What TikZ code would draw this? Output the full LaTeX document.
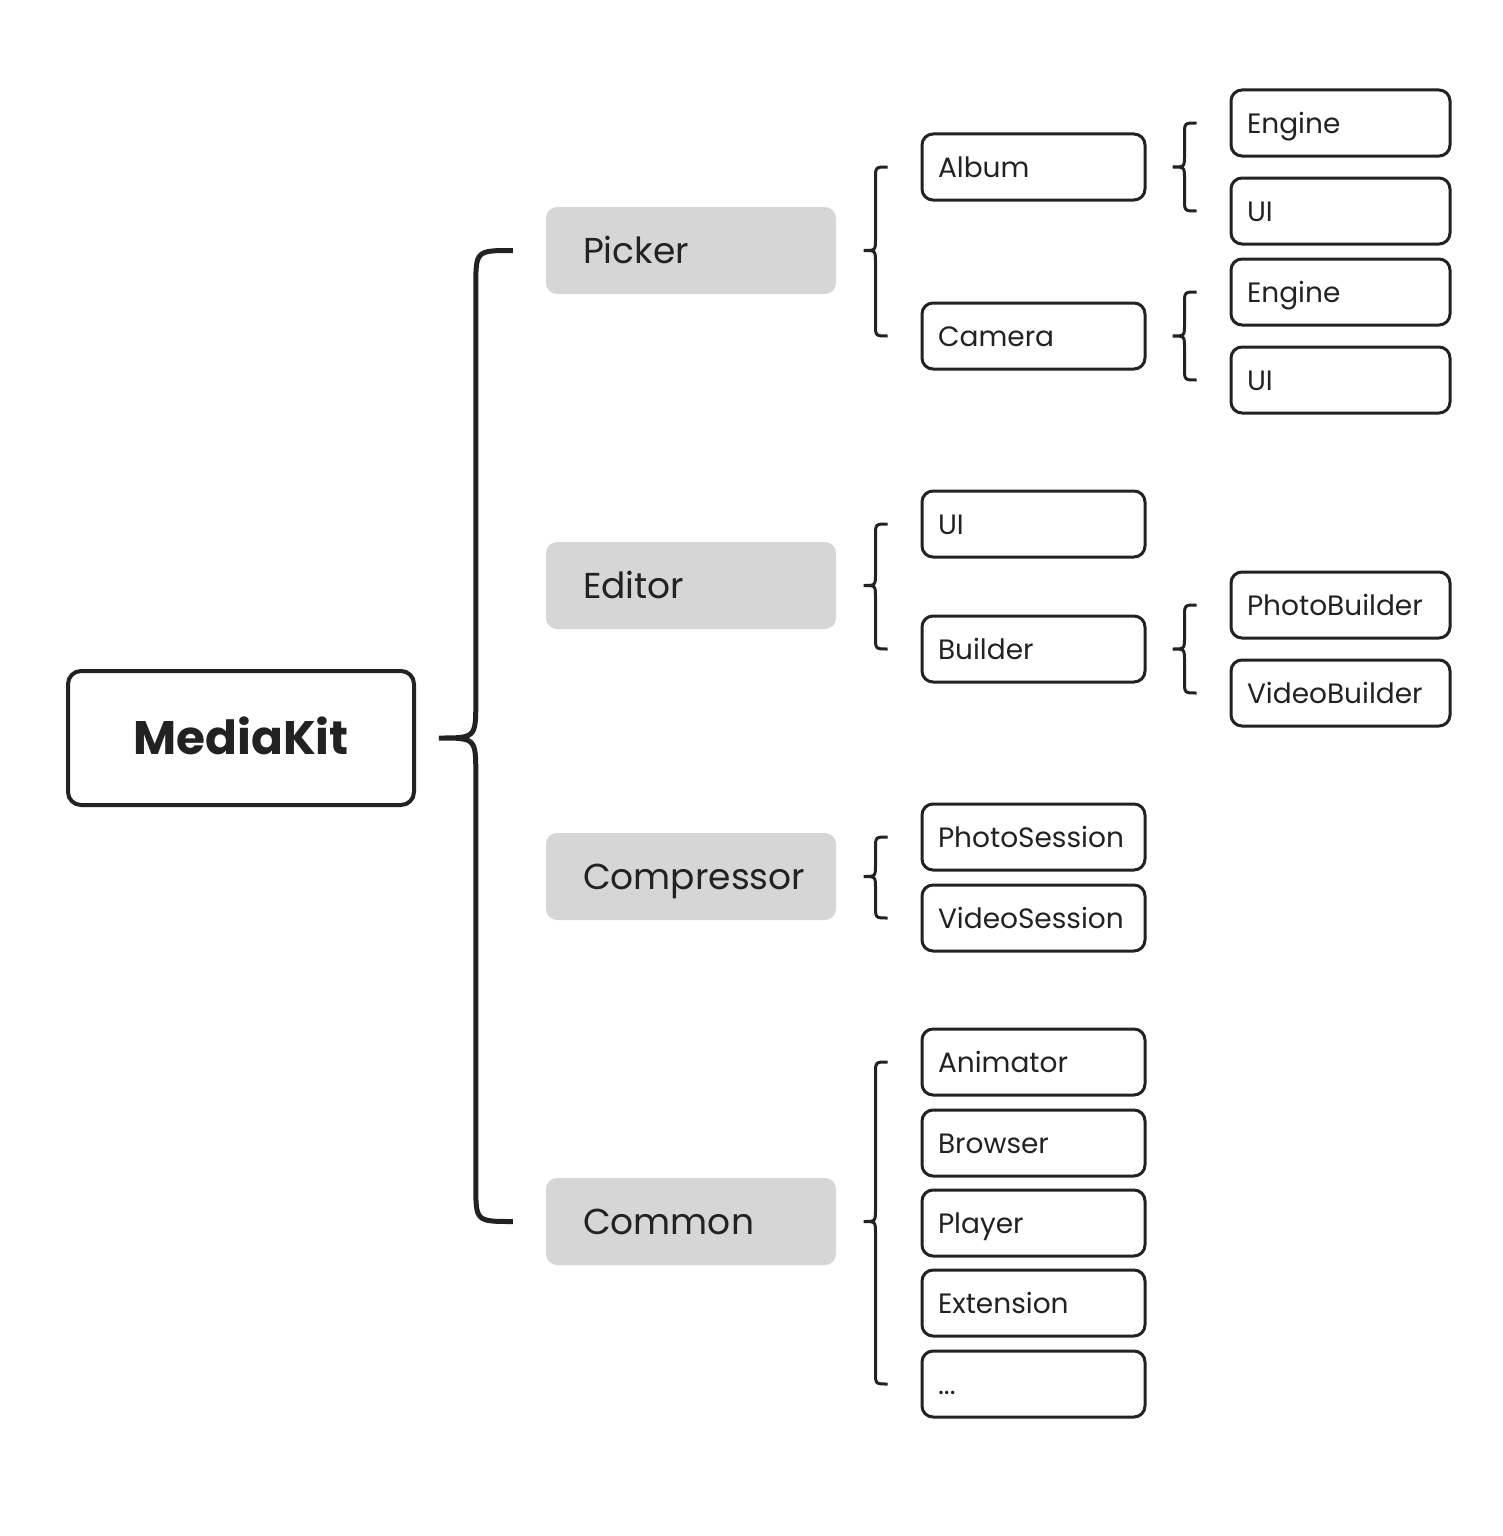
\documentclass[tikz,border=0pt]{standalone}
\usepackage{fontspec}
\setmainfont{Poppins}
\usetikzlibrary{calc}

\definecolor{ink}{HTML}{222222}
\definecolor{shade}{HTML}{D6D6D6}

% curly brace from a parent node to the first and last of its children
\newcommand{\drawbrace}[5][brace]{%
  \draw[#1] let \p1=(#2.east), \p2=(#3.west), \p3=(#4.west) in
    ({\x2-33pt},\y2) .. controls ({\x2-33pt-#5},\y2) .. ({\x2-33pt-#5},{\y2-#5})
    -- ({\x2-33pt-#5},{\y1+#5}) .. controls ({\x2-33pt-#5},\y1) .. ({\x2-33pt-2*#5},\y1)
    .. controls ({\x2-33pt-#5},\y1) .. ({\x2-33pt-#5},{\y1-#5})
    -- ({\x2-33pt-#5},{\y3+#5}) .. controls ({\x2-33pt-#5},\y3) .. ({\x2-33pt},\y3);
}

\begin{document}
\begin{tikzpicture}[x=1pt,y=-1pt,
    rootbox/.style={draw=ink,line width=4pt,rounded corners=13pt,
      minimum width=346pt,minimum height=134pt,text=ink,
      font=\fontsize{47}{56}\selectfont\bfseries,text height=33pt,text depth=0pt},
    groupbox/.style={fill=shade,rounded corners=11pt,minimum height=87pt,
      text width=216pt,inner xsep=37pt,align=left,text=ink,
      font=\fontsize{36}{43}\selectfont,text height=26pt,text depth=0pt},
    leafbox/.style={draw=ink,line width=3pt,rounded corners=11pt,minimum height=66pt,
      text width=191pt,inner xsep=16pt,align=left,text=ink,
      font=\fontsize{28}{34}\selectfont,text height=20pt,text depth=0pt},
    subbox/.style={leafbox,text width=187pt},
    brace/.style={draw=ink,line width=3pt},
    bigbrace/.style={draw=ink,line width=5pt}]

  \useasboundingbox (0,0) rectangle (1502,1536);

  \node[rootbox] (root) at (241,738) {MediaKit};

  \node[groupbox] (picker)     at (691,250.5)  {Picker};
  \node[groupbox] (editor)     at (691,585.5)  {Editor};
  \node[groupbox] (compressor) at (691,876.5)  {Compressor};
  \node[groupbox] (common)     at (691,1221.5) {Common};

  \node[leafbox] (album)        at (1033.5,167)  {Album};
  \node[leafbox] (camera)       at (1033.5,336)  {Camera};
  \node[leafbox] (editorui)     at (1033.5,524)  {UI};
  \node[leafbox] (builder)      at (1033.5,649)  {Builder};
  \node[leafbox] (photosession) at (1033.5,837)  {PhotoSession};
  \node[leafbox] (videosession) at (1033.5,918)  {VideoSession};
  \node[leafbox] (animator)     at (1033.5,1062) {Animator};
  \node[leafbox] (browser)      at (1033.5,1143) {Browser};
  \node[leafbox] (player)       at (1033.5,1223) {Player};
  \node[leafbox] (extension)    at (1033.5,1303) {Extension};
  \node[leafbox] (etc)          at (1033.5,1384) {...};

  \node[subbox] (albumengine)  at (1340.5,123) {Engine};
  \node[subbox] (albumui)      at (1340.5,211) {UI};
  \node[subbox] (cameraengine) at (1340.5,292) {Engine};
  \node[subbox] (cameraui)     at (1340.5,380) {UI};
  \node[subbox] (photobuilder) at (1340.5,605) {PhotoBuilder};
  \node[subbox] (videobuilder) at (1340.5,693) {VideoBuilder};

  \drawbrace[bigbrace]{root}{picker}{common}{37pt}
  \drawbrace{picker}{album}{camera}{12pt}
  \drawbrace{album}{albumengine}{albumui}{12pt}
  \drawbrace{camera}{cameraengine}{cameraui}{12pt}
  \drawbrace{editor}{editorui}{builder}{12pt}
  \drawbrace{builder}{photobuilder}{videobuilder}{12pt}
  \drawbrace{compressor}{photosession}{videosession}{12pt}
  \drawbrace{common}{animator}{etc}{12pt}

\end{tikzpicture}
\end{document}
